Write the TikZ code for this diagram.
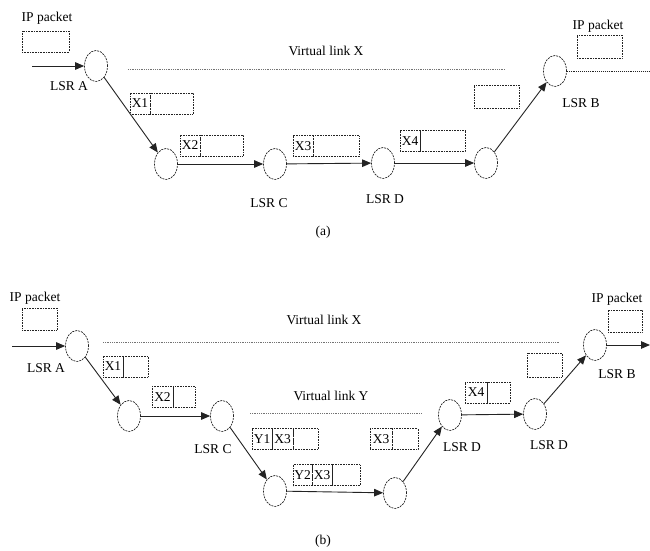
\documentclass[tikz,border=0pt]{standalone}
\usepackage{fontspec}
\setmainfont{Liberation Serif}
\usetikzlibrary{shapes.geometric, arrows.meta, positioning}
\definecolor{inkgray}{RGB}{35,35,35}
\definecolor{linkgray}{RGB}{115,115,115}

\begin{document}
\begin{tikzpicture}[x=1pt, y=-1pt, font=\fontsize{13.5}{15}\selectfont,
  router/.style={ellipse, draw=inkgray, dash pattern=on 2pt off 1pt, line width=0.7pt, minimum width=23pt, minimum height=31pt, inner sep=0pt},
  cell/.style={draw=inkgray, densely dotted, line width=0.6pt, minimum height=21pt, inner sep=1pt, outer sep=0pt},
  hop/.style={draw=inkgray, line width=0.9pt, -{Triangle[length=9pt, width=7.5pt]}},
  vlink/.style={draw=linkgray, densely dotted, line width=0.8pt},
  txt/.style={inner sep=0pt}]
  \useasboundingbox (0,0) rectangle (650,551);

  % (a) one virtual link
  \node[txt] (ipinA) at (47,18) {IP packet};
  \node[cell, minimum width=47pt] (pktinA) at (45.5,41.5) {};
  \coordinate (inA) at (32,66);
  \node[router] (a1) at (96,66) {};
  \node[txt] (lsrA1) at (69,86) {LSR A};
  \node[router] (a2) at (166,164) {};
  \node[router] (a3) at (275,164) {};
  \node[txt] (lsrC1) at (269,203) {LSR C};
  \node[router] (a4) at (383,163) {};
  \node[txt] (lsrD1) at (385,199) {LSR D};
  \node[router] (a5) at (486,163) {};
  \node[router] (a6) at (555,71) {};
  \node[txt] (lsrB1) at (581,103) {LSR B};
  \coordinate (outA) at (650,71);
  \node[txt] (ipoutA) at (598,26) {IP packet};
  \node[cell, minimum width=45pt, minimum height=23pt] (pktoutA) at (599.5,46.5) {};

  \node[txt] (vxA) at (326,51) {Virtual link X};
  \coordinate (vxA1) at (128,69);
  \coordinate (vxA2) at (505,69);
  \draw[vlink] (vxA1) -- (vxA2);

  \node[cell, minimum width=20pt] (x1A) at (140,103.5) {X1};
  \node[cell, minimum width=43pt, right=0pt of x1A] (x1Ar) {};
  \node[cell, minimum width=20pt] (x2A) at (190,145.5) {X2};
  \node[cell, minimum width=43pt, right=0pt of x2A] (x2Ar) {};
  \node[cell, minimum width=20pt] (x3A) at (303,146) {X3};
  \node[cell, minimum width=46pt, right=0pt of x3A] (x3Ar) {};
  \node[cell, minimum width=20pt] (x4A) at (410,141) {X4};
  \node[cell, minimum width=45pt, right=0pt of x4A] (x4Ar) {};
  \node[cell, minimum width=45pt, minimum height=23pt] (popA) at (496.5,96.5) {};

  \draw[hop] (inA) -- (a1);
  \draw[hop] (a1) -- (a2);
  \draw[hop] (a2) -- (a3);
  \draw[hop] (a3) -- (a4);
  \draw[hop] (a4) -- (a5);
  \draw[hop] (a5) -- (a6);
  \draw[inkgray, densely dotted, line width=0.9pt] (a6) -- (outA);
  \node[txt] (capA) at (323,232) {(a)};

  % (b) virtual link Y nested in X
  \node[txt] (ipinB) at (35,298) {IP packet};
  \node[cell, minimum width=35pt, minimum height=22pt] (pktinB) at (39.5,319) {};
  \coordinate (inB) at (12,346);
  \node[router] (b1) at (77,346) {};
  \node[txt] (lsrA2) at (46,368) {LSR A};
  \node[router] (b2) at (129,416) {};
  \node[router] (b3) at (222,416) {};
  \node[txt] (lsrC2) at (213,449) {LSR C};
  \node[router] (b4) at (275,491) {};
  \node[router] (b5) at (395,493) {};
  \node[router] (b6) at (450,415) {};
  \node[txt] (lsrD2) at (462,447) {LSR D};
  \node[router] (b7) at (535,414) {};
  \node[txt] (lsrD3) at (549,445) {LSR D};
  \node[router] (b8) at (595,345) {};
  \node[txt] (lsrB2) at (617,374) {LSR B};
  \coordinate (outB) at (650,345);
  \node[txt] (ipoutB) at (617,299) {IP packet};
  \node[cell, minimum width=34pt, minimum height=22pt] (pktoutB) at (625,321) {};

  \node[txt] (vxB) at (324,320) {Virtual link X};
  \coordinate (vxB1) at (103,342);
  \coordinate (vxB2) at (560,342);
  \draw[vlink] (vxB1) -- (vxB2);
  \node[txt] (vyB) at (331,396) {Virtual link Y};
  \coordinate (vyB1) at (250,413);
  \coordinate (vyB2) at (422,413);
  \draw[vlink] (vyB1) -- (vyB2);

  \node[cell, minimum width=20pt] (x1B) at (113,366.5) {X1};
  \node[cell, minimum width=25pt, right=0pt of x1B] (x1Br) {};
  \node[cell, minimum width=21pt] (x2B) at (162.5,397) {X2};
  \node[cell, minimum width=22pt, right=0pt of x2B] (x2Br) {};
  \node[cell, minimum width=20pt] (y1B) at (262,439) {Y1};
  \node[cell, minimum width=21pt, right=0pt of y1B] (y1x3B) {X3};
  \node[cell, minimum width=25pt, right=0pt of y1x3B] (y1Br) {};
  \node[cell, minimum width=19pt] (y2B) at (302.5,475) {Y2};
  \node[cell, minimum width=20pt, right=0pt of y2B] (y2x3B) {X3};
  \node[cell, minimum width=28pt, right=0pt of y2x3B] (y2Br) {};
  \node[cell, minimum width=22pt] (x3B) at (381,439) {X3};
  \node[cell, minimum width=26pt, right=0pt of x3B] (x3Br) {};
  \node[cell, minimum width=22pt] (x4B) at (476,392.5) {X4};
  \node[cell, minimum width=23pt, right=0pt of x4B] (x4Br) {};
  \node[cell, minimum width=35pt, minimum height=24pt] (popB) at (544.5,365) {};

  \draw[hop] (inB) -- (b1);
  \draw[hop] (b1) -- (b2);
  \draw[hop] (b2) -- (b3);
  \draw[hop] (b3) -- (b4);
  \draw[hop] (b4) -- (b5);
  \draw[hop] (b5) -- (b6);
  \draw[hop] (b6) -- (b7);
  \draw[hop] (b7) -- (b8);
  \draw[hop] (b8) -- (outB);
  \node[txt] (capB) at (323,541) {(b)};
\end{tikzpicture}
\end{document}
